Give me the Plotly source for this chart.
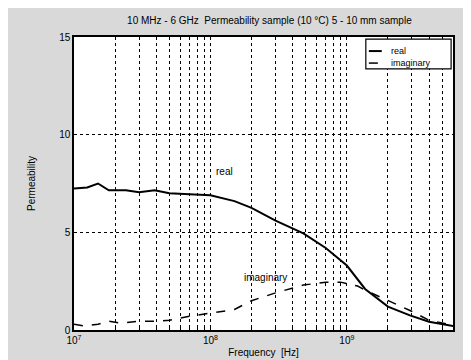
import plotly.graph_objects as go

freq_real = [1e7, 1.25e7, 1.5e7, 1.8e7, 2.4e7, 3.0e7, 3.9e7, 5e7, 7e7, 1e8, 1.5e8, 2e8, 3e8,
             4.8e8, 7e8, 1e9, 1.36e9, 2e9, 2.9e9, 4e9, 6e9]
real_vals = [7.25, 7.3, 7.5, 7.15, 7.15, 7.05, 7.15, 7.0, 6.95, 6.9, 6.6, 6.25, 5.6,
             4.95, 4.2, 3.3, 2.1, 1.2, 0.75, 0.42, 0.2]

freq_imag = [1e7, 1.2e7, 1.5e7, 1.8e7, 2.2e7, 3e7, 4e7, 5e7, 7e7, 1e8, 1.5e8, 2e8, 3e8,
             4.8e8, 7e8, 9e8, 1.2e9, 1.4e9, 2e9, 2.9e9, 4e9, 6e9]
imag_vals = [0.3, 0.2, 0.3, 0.45, 0.35, 0.45, 0.45, 0.5, 0.7, 0.85, 1.05, 1.5, 1.9,
             2.3, 2.45, 2.45, 2.25, 2.0, 1.5, 1.0, 0.5, 0.25]

x_grid = [m * 10 ** e for e in (7, 8, 9) for m in range(1, 10) if m * 10 ** e <= 6e9]
x_labels = {1e7: "10<sup>7</sup>", 1e8: "10<sup>8</sup>", 1e9: "10<sup>9</sup>"}
y_ticks = [0, 5, 10, 15]
series_names = ["real", "imaginary"]

font = "Liberation Sans, Arial, sans-serif"

fig = go.Figure()
fig.add_trace(go.Scatter(x=freq_real, y=real_vals, mode="lines", name=series_names[0],
                         line=dict(color="black", width=2)))
fig.add_trace(go.Scatter(x=freq_imag, y=imag_vals, mode="lines", name=series_names[1],
                         line=dict(color="black", width=1.5, dash="dash")))

# compact legend box (drawn manually to match the small boxed legend)
shapes = [
    dict(type="rect", xref="paper", yref="paper", x0=0.770, x1=0.995, y0=0.891, y1=0.993,
         line=dict(color="black", width=1.2), fillcolor="white", layer="above"),
    dict(type="line", xref="paper", yref="paper", x0=0.778, x1=0.812, y0=0.952, y1=0.952,
         line=dict(color="black", width=2), layer="above"),
    dict(type="line", xref="paper", yref="paper", x0=0.778, x1=0.812, y0=0.911, y1=0.911,
         line=dict(color="black", width=1.5, dash="dash"), layer="above"),
]
legend_text = [
    dict(x=0.830, y=0.952, xref="paper", yref="paper", text=series_names[0], showarrow=False,
         xanchor="left", yanchor="middle", font=dict(size=9)),
    dict(x=0.830, y=0.911, xref="paper", yref="paper", text=series_names[1], showarrow=False,
         xanchor="left", yanchor="middle", font=dict(size=9)),
]

fig.update_layout(
    width=471, height=360,
    margin=dict(l=66, r=26, t=29, b=38),
    paper_bgcolor="#d9d9d9", plot_bgcolor="white",
    font=dict(family=font, size=10, color="black"),
    title=dict(text="10 MHz - 6 GHz  Permeability sample (10 \u00b0C) 5 - 10 mm sample",
               x=0.555, xanchor="center", y=0.965, yanchor="middle",
               font=dict(size=10, color="black")),
    showlegend=False,
    shapes=shapes,
    annotations=[
        dict(x=8.1, y=8.1, xref="x", yref="y", text="real", showarrow=False,
             font=dict(size=10)),
        dict(x=8.4, y=2.7, xref="x", yref="y", text="imaginary", showarrow=False,
             font=dict(size=10)),
    ] + legend_text,
)
fig.update_xaxes(type="log", range=[7, 9.778],
                 tickvals=x_grid,
                 ticktext=[x_labels.get(v, "") for v in x_grid],
                 showgrid=True, gridcolor="black", griddash="dot", gridwidth=1,
                 showline=True, linecolor="black", linewidth=1.5, mirror=True,
                 ticks="inside", ticklen=3, tickcolor="black",
                 title=dict(text="Frequency  [Hz]", font=dict(size=10), standoff=4),
                 zeroline=False)
fig.update_yaxes(range=[0, 15], tickvals=y_ticks,
                 showgrid=True, gridcolor="black", griddash="dot", gridwidth=1,
                 showline=True, linecolor="black", linewidth=1.5, mirror=True,
                 ticks="inside", ticklen=3, tickcolor="black",
                 title=dict(text="Permeability", font=dict(size=10), standoff=22),
                 zeroline=False)

fig.write_html("out.html")
